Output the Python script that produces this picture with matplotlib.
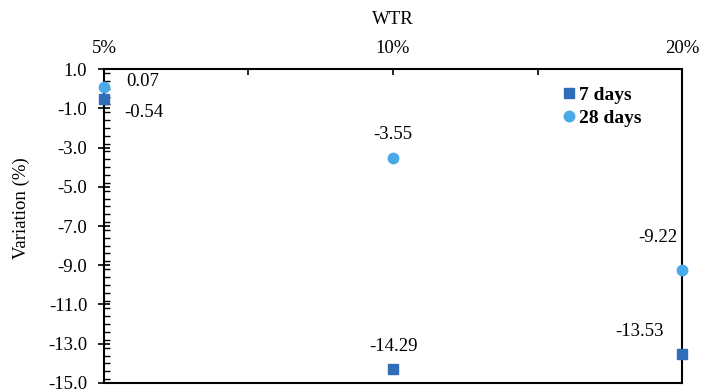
import matplotlib
matplotlib.use("Agg")
import matplotlib.pyplot as plt
from matplotlib.ticker import MultipleLocator, FormatStrFormatter

plt.rcParams['font.family'] = ['Liberation Serif', 'DejaVu Serif']

# WTR content levels and measured variation
wtr_levels = ['5%', '10%', '20%']
days_7 = [-0.54, -14.29, -13.53]
days_28 = [0.07, -3.55, -9.22]

c7 = '#2f6db8'
c28 = '#4aa9e6'

fig = plt.figure(figsize=(7.12, 3.90), dpi=100)
ax = fig.add_axes([0.146, 0.018, 0.812, 0.805])

xs = list(range(len(wtr_levels)))
ax.plot(xs, days_7, linestyle='none', marker='s', markersize=7.5, color=c7,
        label='7 days', clip_on=False, zorder=3)
ax.plot(xs, days_28, linestyle='none', marker='o', markersize=7.5, color=c28,
        label='28 days', clip_on=False, zorder=3)

# value labels (offsets in pixels)
labels_7 = [((20, -13), 'left'), ((0, 23), 'center'), ((-43, 23), 'center')]
labels_28 = [((22, 6), 'left'), ((0, 24), 'center'), ((-24, 32), 'center')]
for series, placing in [(days_7, labels_7), (days_28, labels_28)]:
    for x, v, (off, ha) in zip(xs, series, placing):
        ax.annotate(f'{v:.2f}', (x, v), xytext=off, textcoords='offset pixels',
                    ha=ha, va='center', fontsize=13.5)

ax.set_xlim(0, 2)
ax.set_ylim(-15, 1)

ax.xaxis.tick_top()
ax.xaxis.set_label_position('top')
ax.set_xticks(xs)
ax.set_xticklabels(wtr_levels, fontsize=13.5)
ax.set_xticks([0.5, 1.5], minor=True)
ax.tick_params(axis='x', which='both', direction='in', length=4, width=1.2, pad=9)
ax.set_xlabel('WTR', fontsize=13.5, labelpad=11)

ax.yaxis.set_minor_locator(MultipleLocator(0.4))
ax.yaxis.set_major_formatter(FormatStrFormatter('%.1f'))
ax.set_yticks([1.0 - 2 * i for i in range(9)])
ax.tick_params(axis='y', which='major', direction='inout', length=8, width=1.2,
               pad=8, labelsize=13.5)
ax.tick_params(axis='y', which='minor', direction='in', length=4, width=1.0)
ax.set_ylabel('Variation (%)', fontsize=13.5)
ax.yaxis.set_label_coords(-0.128, 0.557)

for side in ['top', 'bottom', 'left', 'right']:
    ax.spines[side].set_linewidth(1.5)
    ax.spines[side].set_color('black')

ax.legend(loc='upper left', bbox_to_anchor=(0.757, 1.0), frameon=False,
          handletextpad=0.0, labelspacing=0.25, handlelength=1.0,
          prop={'weight': 'bold', 'size': 14})

fig.savefig('out.png', dpi=100)
